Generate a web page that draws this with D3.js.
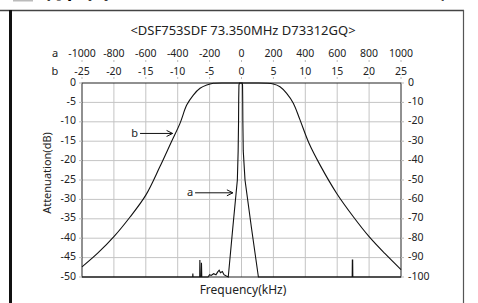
<!DOCTYPE html>
<html>
<head>
<meta charset="utf-8">
<script src="https://cdn.jsdelivr.net/npm/d3@7"></script>
<style>
  body { margin: 0; background: #fff; }
  svg { display: block; font-family: "Noto Sans", "Noto Sans CJK JP", sans-serif; }
</style>
</head>
<body>
<div id="chart"></div>
<script>
const width = 478;
const height = 303;

// tick labels
const aTicks = [-1000, -800, -600, -400, -200, 0, 200, 400, 600, 800, 1000];
const bTicks = [-25, -20, -15, -10, -5, 0, 5, 10, 15, 20, 25];
const leftTicks = [0, -5, -10, -15, -20, -25, -30, -35, -40, -45, -50];
const rightTicks = [0, -10, -20, -30, -40, -50, -60, -70, -80, -90, -100];

// curve b: [kHz on b scale, dB on left scale]
const curveB = [
  [-25, -47.4], [-22.5, -43.8], [-20, -39.6], [-17.5, -34.6], [-15, -28.9],
  [-12.8, -21.6], [-11, -15.2], [-9.64, -10.4], [-8.59, -5.7], [-7.55, -3.1],
  [-6.5, -1.37], [-5.45, -0.52], [-4.42, -0.08], [-2, 0], [0, 0], [2, 0],
  [4.98, -0.26], [6.03, -0.95], [7.08, -2.65], [8.12, -5.2], [9.17, -9.5],
  [10.6, -15.6], [12.3, -21.1], [14.9, -28.4], [17.5, -34.4], [20, -39.6],
  [22.5, -44], [25, -48.1]
];

// curve a: [kHz on a scale, dB on right scale]
const curveA = [
  [-1000, -100], [-306, -100], [-305, -98.2], [-304, -100],
  [-262, -100], [-261, -91.2], [-259, -100], [-252, -100], [-251, -92.6], [-249, -100],
  [-210, -100], [-200, -98.8], [-190, -99.2], [-175, -98.3], [-160, -98.9],
  [-150, -97.5], [-140, -96.5], [-132, -97.8], [-120, -97.2], [-110, -98.8],
  [-95, -99.5], [-83, -100], [-55, -75], [-26, -50], [-21, -35], [-18.5, -20],
  [-17.5, -8], [-16, -1], [-12, 0], [4, 0], [6.5, -1], [7.5, -8], [8.5, -20],
  [11, -35], [22, -50], [63, -75], [106, -100],
  [694, -100], [695, -91.2], [697, -91.2], [698, -100], [1000, -100]
];

const plot = { left: 82, right: 401, top: 83, bottom: 277 };

const xb = d3.scaleLinear().domain([-25, 25]).range([plot.left, plot.right]);
const xa = d3.scaleLinear().domain([-1000, 1000]).range([plot.left, plot.right]);
const yL = d3.scaleLinear().domain([0, -50]).range([plot.top, plot.bottom]);
const yR = d3.scaleLinear().domain([0, -100]).range([plot.top, plot.bottom]);

const svg = d3.select('#chart')
    .append('svg')
    .attr('width', width)
    .attr('height', height);

// page frame (heading above is cropped off in the original)
svg.append('rect').attr('x', 13).attr('y', -2).attr('width', 20).attr('height', 3.5).attr('fill', '#bbb');
svg.append('text').attr('x', 43).attr('y', -2.5).attr('font-size', 22).attr('font-weight', 'bold')
    .attr('font-family', '"Noto Sans CJK JP"').text('特性図');
svg.append('text').attr('x', 440).attr('y', -2.5).attr('font-size', 22).attr('font-weight', 'bold')
    .attr('font-family', '"Noto Sans CJK JP"').text('）');
svg.append('line').attr('x1', 0).attr('x2', 464).attr('y1', 10.5).attr('y2', 10.5)
    .attr('stroke', '#444').attr('stroke-width', 1.5);
svg.append('line').attr('x1', 10.5).attr('x2', 10.5).attr('y1', 10).attr('y2', height)
    .attr('stroke', '#111').attr('stroke-width', 3);
svg.append('line').attr('x1', 463.5).attr('x2', 463.5).attr('y1', 10).attr('y2', height)
    .attr('stroke', '#555').attr('stroke-width', 1.2);

// grid
svg.append('g').selectAll('line').data(bTicks.slice(1, -1)).enter().append('line')
    .attr('x1', d => xb(d)).attr('x2', d => xb(d))
    .attr('y1', plot.top).attr('y2', plot.bottom)
    .attr('stroke', '#c4c4c4').attr('stroke-width', 1);
svg.append('g').selectAll('line').data(leftTicks.slice(1, -1)).enter().append('line')
    .attr('x1', plot.left).attr('x2', plot.right)
    .attr('y1', d => yL(d)).attr('y2', d => yL(d))
    .attr('stroke', '#c4c4c4').attr('stroke-width', 1);

svg.append('rect')
    .attr('x', plot.left).attr('y', plot.top)
    .attr('width', plot.right - plot.left).attr('height', plot.bottom - plot.top)
    .attr('fill', 'none').attr('stroke', '#222').attr('stroke-width', 1);

// top axes
const textColor = '#222';
svg.append('text').attr('x', 243).attr('y', 35).attr('text-anchor', 'middle')
    .attr('font-size', 13).attr('fill', textColor)
    .text('<DSF753SDF 73.350MHz D73312GQ>');

svg.append('text').attr('x', 55).attr('y', 57).attr('text-anchor', 'middle')
    .attr('font-size', 11).attr('fill', textColor).text('a');
svg.append('text').attr('x', 55).attr('y', 74.5).attr('text-anchor', 'middle')
    .attr('font-size', 11).attr('fill', textColor).text('b');

const aAxis = svg.append('g');
aAxis.selectAll('text').data(aTicks).enter().append('text')
    .attr('x', d => xa(d)).attr('y', 57).attr('text-anchor', 'middle')
    .attr('font-size', 10.5).attr('fill', textColor).text(d => d);
aAxis.selectAll('line').data(aTicks).enter().append('line')
    .attr('x1', d => xa(d)).attr('x2', d => xa(d)).attr('y1', 60).attr('y2', 62)
    .attr('stroke', '#bbb');

const bAxis = svg.append('g');
bAxis.selectAll('text').data(bTicks).enter().append('text')
    .attr('x', d => xb(d)).attr('y', 74.5).attr('text-anchor', 'middle')
    .attr('font-size', 10.5).attr('fill', textColor).text(d => d);
bAxis.selectAll('line').data(bTicks).enter().append('line')
    .attr('x1', d => xb(d)).attr('x2', d => xb(d)).attr('y1', 77).attr('y2', 79)
    .attr('stroke', '#bbb');

// side axes
svg.append('g').selectAll('text').data(leftTicks).enter().append('text')
    .attr('x', 76).attr('y', d => yL(d)).attr('dy', '0.25em').attr('text-anchor', 'end')
    .attr('font-size', 10.5).attr('fill', textColor).text(d => d);
svg.append('g').selectAll('line').data(leftTicks).enter().append('line')
    .attr('x1', plot.left - 3).attr('x2', plot.left).attr('y1', d => yL(d)).attr('y2', d => yL(d))
    .attr('stroke', '#bbb');
svg.append('g').selectAll('text').data(rightTicks).enter().append('text')
    .attr('x', 408).attr('y', d => yR(d)).attr('dy', '0.25em').attr('text-anchor', 'start')
    .attr('font-size', 10.5).attr('fill', textColor).text(d => d);
svg.append('g').selectAll('line').data(rightTicks).enter().append('line')
    .attr('x1', plot.right).attr('x2', plot.right + 3).attr('y1', d => yR(d)).attr('y2', d => yR(d))
    .attr('stroke', '#bbb');

svg.append('text')
    .attr('transform', 'translate(51,173) rotate(-90)')
    .attr('text-anchor', 'middle').attr('font-size', 11).attr('fill', textColor)
    .text('Attenuation(dB)');
svg.append('text').attr('x', 243).attr('y', 294).attr('text-anchor', 'middle')
    .attr('font-size', 12).attr('fill', textColor).text('Frequency(kHz)');

// curves
const lineB = d3.line().x(d => xb(d[0])).y(d => yL(d[1])).curve(d3.curveCatmullRom);
const lineA = d3.line().x(d => xa(d[0])).y(d => yR(d[1]));

svg.append('path').datum(curveB).attr('d', lineB)
    .attr('fill', 'none').attr('stroke', '#111').attr('stroke-width', 1.1);
svg.append('path').datum(curveA).attr('d', lineA)
    .attr('fill', 'none').attr('stroke', '#111').attr('stroke-width', 1.1);

// annotations
function arrow(label, x1, x2, y) {
  svg.append('text').attr('x', x1 - 2).attr('y', y).attr('dy', '0.32em')
      .attr('text-anchor', 'end').attr('font-size', 11).attr('fill', textColor).text(label);
  svg.append('line').attr('x1', x1).attr('x2', x2).attr('y1', y).attr('y2', y)
      .attr('stroke', '#111').attr('stroke-width', 1);
  svg.append('path').attr('d', `M${x2 - 6},${y - 3}L${x2},${y}L${x2 - 6},${y + 3}`)
      .attr('fill', 'none').attr('stroke', '#111').attr('stroke-width', 1);
}
arrow('b', xb(-15.9), xb(-10.8), yL(-13));
arrow('a', xa(-291), xa(-54), yR(-56.6));
</script>
</body>
</html>
